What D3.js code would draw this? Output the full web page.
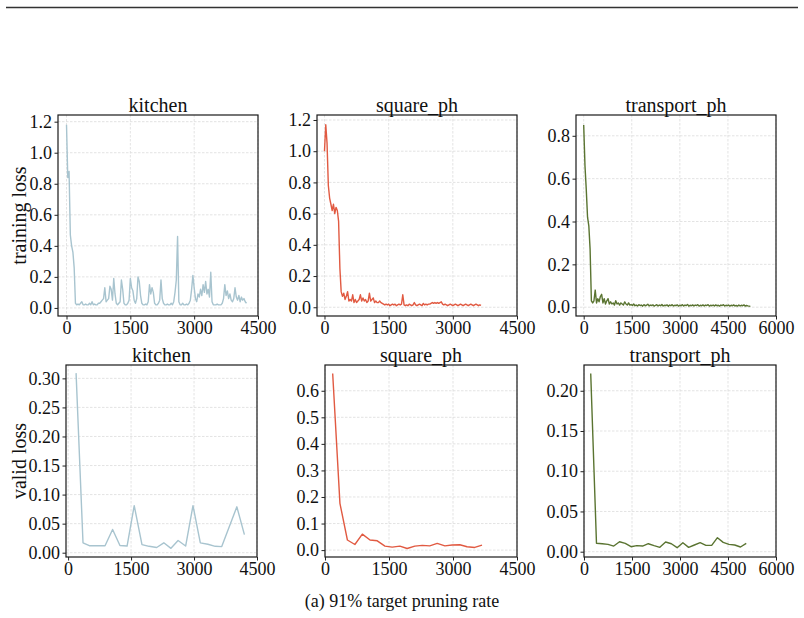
<!DOCTYPE html>
<html>
<head>
<meta charset="utf-8">
<script src="https://cdn.jsdelivr.net/npm/d3@7"></script>
<style>
  body { margin: 0; background: #fff; }
  svg { display: block; }
  svg text { font-family: "Liberation Serif", "Times New Roman", serif !important; }
</style>
</head>
<body>
<svg id="drawing_region"></svg>
<script>
// tasks and line colours
const tasks = ["kitchen", "square_ph", "transport_ph"];
const colors = ["#a8c4cf", "#e15a42", "#5a7431"];

// training loss, one value every N steps
const kitchenTrainStep = 30;
const kitchenTrain = [
  1.18, 0.84, 0.88, 0.47, 0.40, 0.36, 0.26, 0.03, 0.02, 0.025,
  0.02, 0.03, 0.04, 0.02, 0.02, 0.025, 0.02, 0.02, 0.03, 0.02,
  0.04, 0.02, 0.025, 0.02, 0.02, 0.03, 0.03, 0.04, 0.05, 0.06,
  0.13, 0.04, 0.05, 0.06, 0.14, 0.12, 0.05, 0.19, 0.09, 0.03,
  0.02, 0.03, 0.04, 0.18, 0.12, 0.03, 0.02, 0.02, 0.03, 0.05,
  0.19, 0.13, 0.11, 0.05, 0.03, 0.06, 0.20, 0.17, 0.08, 0.03,
  0.02, 0.02, 0.025, 0.02, 0.04, 0.15, 0.09, 0.13, 0.10, 0.03,
  0.02, 0.02, 0.03, 0.05, 0.18, 0.06, 0.03, 0.02, 0.02, 0.025,
  0.02, 0.02, 0.03, 0.02, 0.04, 0.10, 0.18, 0.46, 0.04, 0.02,
  0.02, 0.03, 0.02, 0.02, 0.025, 0.02, 0.03, 0.05, 0.12, 0.21,
  0.13, 0.06, 0.04, 0.09, 0.07, 0.12, 0.08, 0.15, 0.10, 0.17,
  0.09, 0.12, 0.07, 0.23, 0.04, 0.02, 0.02, 0.02, 0.025, 0.02,
  0.02, 0.02, 0.03, 0.06, 0.15, 0.08, 0.11, 0.06, 0.09, 0.05,
  0.04, 0.06, 0.13, 0.07, 0.05, 0.08, 0.04, 0.07, 0.05, 0.06,
  0.04, 0.03
];

const squareTrainStep = 30;
const squareTrain = [
  1.00, 1.17, 1.05, 0.78, 0.70, 0.66, 0.62, 0.66, 0.60, 0.64,
  0.62, 0.55, 0.25, 0.10, 0.07, 0.09, 0.05, 0.07, 0.10, 0.04,
  0.05, 0.04, 0.08, 0.03, 0.05, 0.03, 0.04, 0.05, 0.08, 0.04,
  0.06, 0.04, 0.05, 0.03, 0.04, 0.09, 0.04, 0.05, 0.06, 0.03,
  0.04, 0.03, 0.03, 0.04, 0.03, 0.025, 0.02, 0.015, 0.02, 0.015,
  0.02, 0.01, 0.015, 0.02, 0.015, 0.02, 0.01, 0.015, 0.02, 0.015,
  0.02, 0.08, 0.015, 0.01, 0.015, 0.01, 0.02, 0.015, 0.01, 0.015,
  0.03, 0.015, 0.01, 0.015, 0.02, 0.015, 0.01, 0.025, 0.015, 0.02,
  0.015, 0.02, 0.02, 0.025, 0.03, 0.025, 0.03, 0.025, 0.03, 0.025,
  0.03, 0.035, 0.02, 0.015, 0.02, 0.015, 0.01, 0.015, 0.02, 0.015,
  0.01, 0.015, 0.02, 0.015, 0.01, 0.015, 0.02, 0.015, 0.01, 0.015,
  0.02, 0.015, 0.01, 0.015, 0.02, 0.015, 0.01, 0.015, 0.02, 0.015,
  0.01, 0.015, 0.012
];

const transportTrainStep = 40;
const transportTrain = [
  0.85, 0.66, 0.55, 0.42, 0.38, 0.27, 0.03, 0.02, 0.03, 0.08,
  0.02, 0.04, 0.025, 0.05, 0.06, 0.02, 0.04, 0.015, 0.03, 0.04,
  0.015, 0.025, 0.015, 0.02, 0.01, 0.03, 0.015, 0.02, 0.01, 0.02,
  0.015, 0.01, 0.025, 0.015, 0.01, 0.02, 0.01, 0.012, 0.008, 0.015,
  0.007, 0.01, 0.006, 0.012, 0.008, 0.01, 0.005, 0.012, 0.007, 0.009,
  0.014, 0.006, 0.01, 0.008, 0.011, 0.005, 0.009, 0.012, 0.006, 0.01,
  0.007, 0.013, 0.006, 0.009, 0.008, 0.011, 0.005, 0.01, 0.007, 0.012,
  0.006, 0.009, 0.008, 0.011, 0.005, 0.009, 0.007, 0.012, 0.006, 0.01,
  0.008, 0.013, 0.005, 0.009, 0.007, 0.011, 0.006, 0.01, 0.008, 0.012,
  0.005, 0.009, 0.007, 0.011, 0.006, 0.01, 0.008, 0.012, 0.005, 0.009,
  0.007, 0.01, 0.006, 0.011, 0.007, 0.009, 0.005, 0.01, 0.008, 0.012,
  0.006, 0.009, 0.007, 0.01, 0.005, 0.009, 0.007, 0.011, 0.006, 0.008,
  0.005, 0.01, 0.006, 0.009, 0.007, 0.011, 0.005, 0.008, 0.006, 0.005,
  0.004
];

// validation loss
const kitchenValidSteps = [190, 355, 505, 700, 880, 1060, 1235, 1405, 1575, 1760, 1930, 2110,
  2280, 2450, 2620, 2800, 2975, 3150, 3330, 3505, 3660, 4020, 4200];
const kitchenValid = [0.309, 0.017, 0.012, 0.012, 0.012, 0.040, 0.0125, 0.0115, 0.081, 0.014, 0.011, 0.009,
  0.017, 0.0075, 0.021, 0.0115, 0.081, 0.017, 0.0145, 0.011, 0.0105, 0.079, 0.031];

const squareValidSteps = [180, 350, 525, 700, 875, 1055, 1225, 1405, 1575, 1755, 1925, 2105,
  2280, 2455, 2630, 2810, 2980, 3160, 3330, 3510, 3680];
const squareValid = [0.665, 0.176, 0.038, 0.021, 0.060, 0.038, 0.035, 0.015, 0.011, 0.015, 0.006, 0.015,
  0.0176, 0.016, 0.025, 0.016, 0.019, 0.020, 0.0126, 0.010, 0.019];

const transportValidSteps = [210, 390, 570, 750, 930, 1110, 1290, 1470, 1650, 1830, 2010, 2190,
  2370, 2550, 2730, 2910, 3090, 3270, 3450, 3630, 3810, 3990, 4170, 4350, 4530, 4710, 4890, 5070];
const transportValid = [0.2215, 0.0104, 0.0099, 0.0091, 0.0070, 0.0124, 0.0104, 0.0062, 0.0075, 0.0070, 0.0099, 0.0075,
  0.0054, 0.0120, 0.0099, 0.0050, 0.0112, 0.0054, 0.0083, 0.0112, 0.0079, 0.0079, 0.0174, 0.0116,
  0.0091, 0.0083, 0.0058, 0.0104];

// tick labels
const xTicks4500 = [0, 1500, 3000, 4500];
const xTicks6000 = [0, 1500, 3000, 4500, 6000];
const yTicksTrain12 = [0, 0.2, 0.4, 0.6, 0.8, 1.0, 1.2];
const yTicksTrain08 = [0, 0.2, 0.4, 0.6, 0.8];
const yTicksValid30 = [0, 0.05, 0.10, 0.15, 0.20, 0.25, 0.30];
const yTicksValid06 = [0, 0.1, 0.2, 0.3, 0.4, 0.5, 0.6];
const yTicksValid20 = [0, 0.05, 0.10, 0.15, 0.20];

const caption = "(a) 91% target pruning rate";

const SERIF = '"Liberation Serif", "Times New Roman", serif';


class LossPlot {

    constructor( config, xs, ys ) {
        this.config = config;
        this.data = xs.map( (x, i) => ({ x: x, y: ys[i] }) );
        this.init();
    }

    init() {
        let self = this;
        const c = self.config;

        self.chart = c.parent.append('g')
            .attr('transform', `translate(${c.left}, ${c.top})`);

        self.xscale = d3.scaleLinear()
            .domain( c.xdomain )
            .range([0, c.width]);

        self.yscale = d3.scaleLinear()
            .domain( c.ydomain )
            .range([c.height, 0]);

        self.xaxis = d3.axisBottom( self.xscale )
            .tickValues( c.xticks )
            .tickFormat( d3.format('d') )
            .tickSizeInner(3.5)
            .tickSizeOuter(0)
            .tickPadding(1.5);

        self.yaxis = d3.axisLeft( self.yscale )
            .tickValues( c.yticks )
            .tickFormat( d3.format(c.yformat) )
            .tickSizeInner(3.5)
            .tickSizeOuter(0)
            .tickPadding(2.5);
    }

    render() {
        let self = this;
        const c = self.config;

        // grid
        self.chart.append('g')
            .selectAll('line').data(c.xticks).enter()
            .append('line')
            .attr('x1', d => self.xscale(d)).attr('x2', d => self.xscale(d))
            .attr('y1', 0).attr('y2', c.height)
            .attr('stroke', '#dcdcdc').attr('stroke-width', 0.8)
            .attr('stroke-dasharray', '2.5,1.5');

        self.chart.append('g')
            .selectAll('line').data(c.yticks).enter()
            .append('line')
            .attr('x1', 0).attr('x2', c.width)
            .attr('y1', d => self.yscale(d)).attr('y2', d => self.yscale(d))
            .attr('stroke', '#dcdcdc').attr('stroke-width', 0.8)
            .attr('stroke-dasharray', '2.5,1.5');

        // loss line
        const line = d3.line()
            .x( d => self.xscale(d.x) )
            .y( d => self.yscale(d.y) );

        self.chart.append('path')
            .datum(self.data)
            .attr('d', line)
            .attr('fill', 'none')
            .attr('stroke', c.color)
            .attr('stroke-width', 1.4)
            .attr('stroke-linejoin', 'round');

        // frame
        self.chart.append('rect')
            .attr('x', 0).attr('y', 0)
            .attr('width', c.width).attr('height', c.height)
            .attr('fill', 'none')
            .attr('stroke', '#1a1a1a')
            .attr('stroke-width', 1.2);

        const xg = self.chart.append('g')
            .attr('transform', `translate(0, ${c.height})`)
            .call( self.xaxis );
        const yg = self.chart.append('g')
            .call( self.yaxis );

        [xg, yg].forEach( g => {
            g.select('.domain').remove();
            g.attr('font-family', SERIF).attr('font-size', 18);
            g.selectAll('text')
                .attr('fill', '#111')
                .attr('font-family', SERIF)
                .attr('font-size', 18);
            g.selectAll('line').attr('stroke', '#222');
        });

        // title
        self.chart.append('text')
            .attr('x', c.width / 2)
            .attr('y', -3)
            .attr('text-anchor', 'middle')
            .attr('fill', '#111')
            .attr('font-family', SERIF)
            .attr('font-size', 20)
            .text(c.title);

        if (c.ylabel) {
            self.chart.append('text')
                .attr('transform', `translate(${26 - c.left}, ${c.height / 2}) rotate(-90)`)
                .attr('text-anchor', 'middle')
                .attr('fill', '#111')
                .attr('font-family', SERIF)
                .attr('font-size', 20)
                .text(c.ylabel);
        }
    }
}


const svg = d3.select('#drawing_region')
    .attr('width', 804)
    .attr('height', 618);

svg.append('rect').attr('width', 804).attr('height', 618).attr('fill', '#fff');

// rule across the top of the page
svg.append('line')
    .attr('x1', 6).attr('x2', 798)
    .attr('y1', 7.5).attr('y2', 7.5)
    .attr('stroke', '#333').attr('stroke-width', 1.3);

const steps = (vals, n) => vals.map( (v, i) => i * n );

const panels = [
    { cfg: { left: 58, top: 115, width: 200, height: 201, title: tasks[0], ylabel: "training loss", color: colors[0],
             xdomain: [-200, 4500], xticks: xTicks4500, ydomain: [-0.052, 1.243], yticks: yTicksTrain12, yformat: '.1f' },
      xs: steps(kitchenTrain, kitchenTrainStep), ys: kitchenTrain },
    { cfg: { left: 317, top: 115, width: 200, height: 201, title: tasks[1], color: colors[1],
             xdomain: [-175, 4500], xticks: xTicks4500, ydomain: [-0.056, 1.232], yticks: yTicksTrain12, yformat: '.1f' },
      xs: steps(squareTrain, squareTrainStep), ys: squareTrain },
    { cfg: { left: 576, top: 115, width: 200, height: 201, title: tasks[2], color: colors[2],
             xdomain: [-240, 6000], xticks: xTicks6000, ydomain: [-0.041, 0.897], yticks: yTicksTrain08, yformat: '.1f' },
      xs: steps(transportTrain, transportTrainStep), ys: transportTrain },
    { cfg: { left: 66, top: 365, width: 191, height: 192, title: tasks[0], ylabel: "valid loss", color: colors[0],
             xdomain: [-50, 4500], xticks: xTicks4500, ydomain: [-0.0074, 0.323], yticks: yTicksValid30, yformat: '.2f' },
      xs: kitchenValidSteps, ys: kitchenValid },
    { cfg: { left: 325, top: 365, width: 192, height: 192, title: tasks[1], color: colors[1],
             xdomain: [0, 4500], xticks: xTicks4500, ydomain: [-0.026, 0.697], yticks: yTicksValid06, yformat: '.1f' },
      xs: squareValidSteps, ys: squareValid },
    { cfg: { left: 584, top: 365, width: 192, height: 192, title: tasks[2], color: colors[2],
             xdomain: [0, 6000], xticks: xTicks6000, ydomain: [-0.0066, 0.232], yticks: yTicksValid20, yformat: '.2f' },
      xs: transportValidSteps, ys: transportValid }
];

panels.forEach( p => {
    p.cfg.parent = svg;
    const plot = new LossPlot( p.cfg, p.xs, p.ys );
    plot.render();
});

svg.append('text')
    .attr('x', 402)
    .attr('y', 607)
    .attr('text-anchor', 'middle')
    .attr('fill', '#111')
    .attr('font-family', SERIF)
    .attr('font-size', 18)
    .text(caption);
</script>
</body>
</html>
